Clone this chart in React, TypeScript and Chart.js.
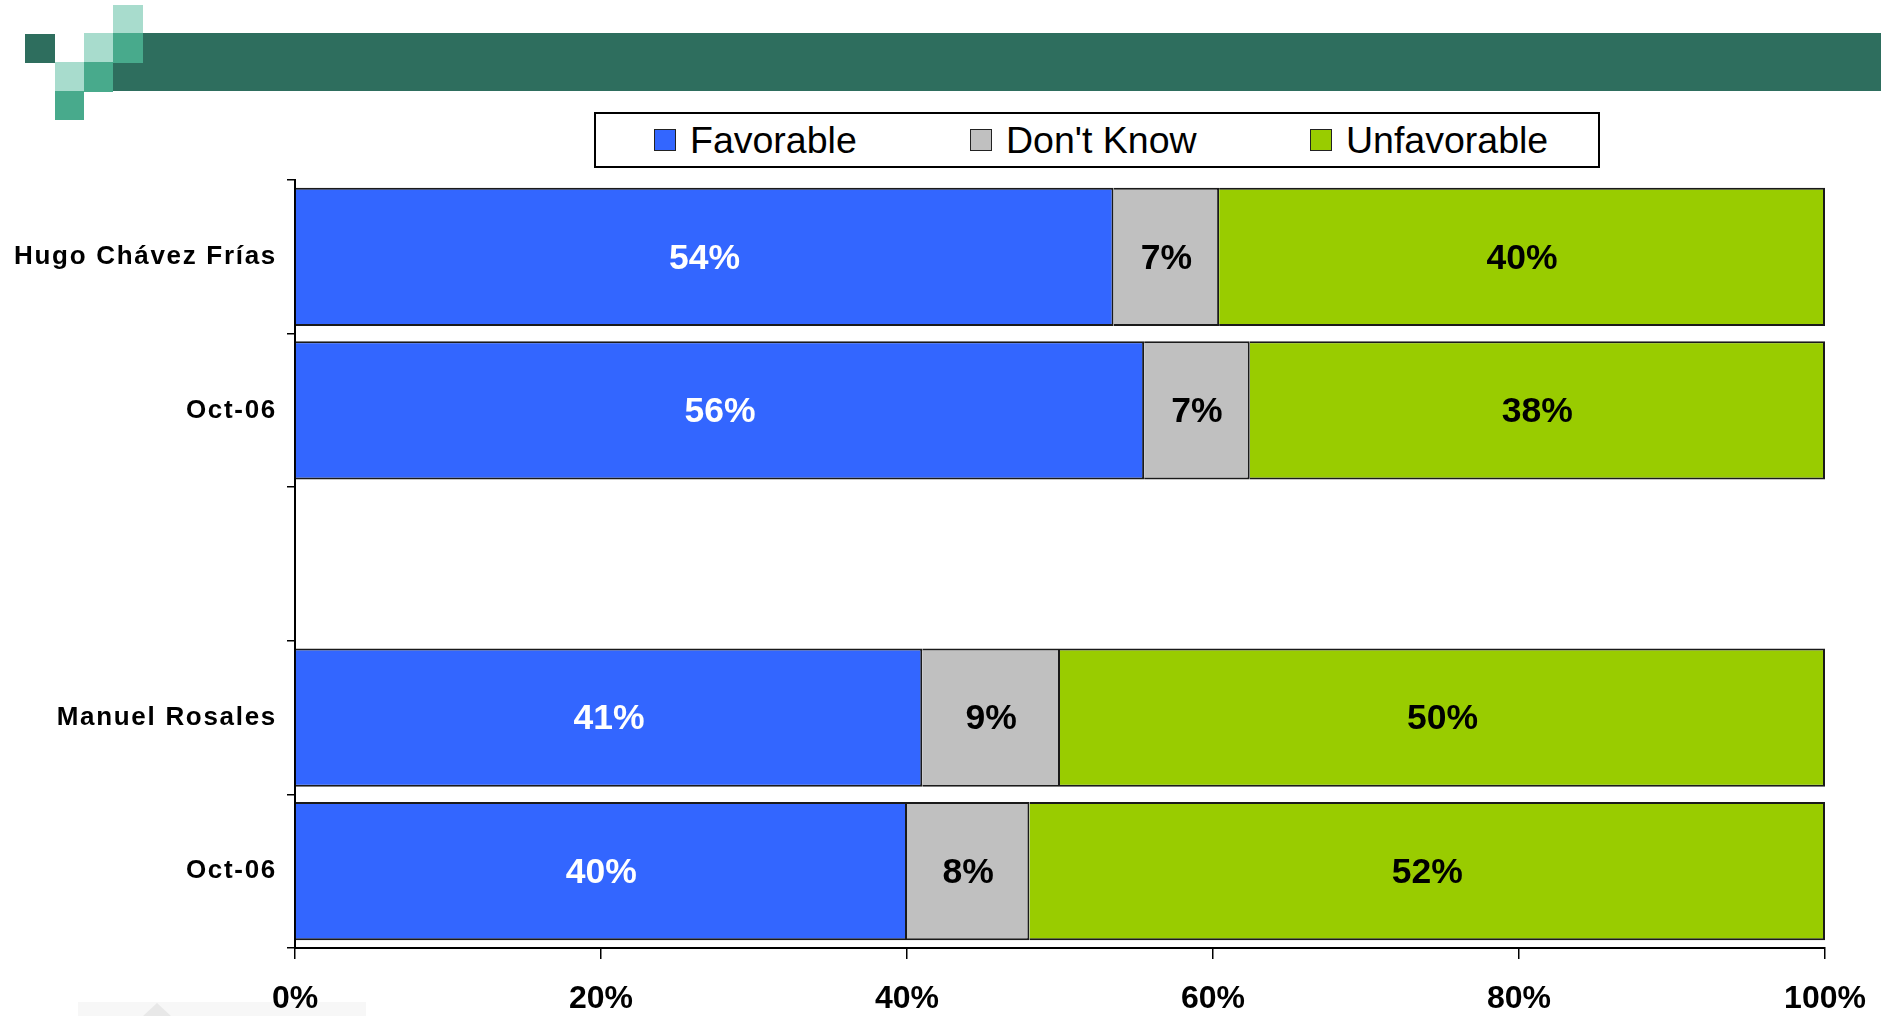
import React, { useEffect, useRef } from "react";
import { Chart, registerables } from "chart.js";

Chart.register(...registerables);

const categories = ["Hugo Chávez Frías", "Oct-06", "", "Manuel Rosales", "Oct-06"];
const favorable = [53.5, 55.5, null, 41, 40];
const dontKnow = [6.9, 6.9, null, 9, 8];
const unfavorable = [39.6, 37.6, null, 50, 52];
const seriesNames = ["Favorable", "Don't Know", "Unfavorable"];
const seriesColors = ["#3366FF", "#C0C0C0", "#99CC00"];
const labelColors = ["#FFFFFF", "#000000", "#000000"];
const xTickValues = [0, 20, 40, 60, 80, 100];

const FONT = "'Liberation Sans', Arial, Helvetica, sans-serif";

const spacingPlugin = {
  id: "ySpacing",
  beforeDraw(chart: any) {
    try {
      chart.ctx.letterSpacing = "1.7px";
    } catch (e) {}
  },
  beforeDatasetsDraw(chart: any) {
    try {
      chart.ctx.letterSpacing = "0px";
    } catch (e) {}
  },
};

const valueLabelPlugin = {
  id: "valueLabels",
  afterDatasetsDraw(chart: any) {
    const ctx = chart.ctx;
    ctx.save();
    ctx.font = `bold 35.5px ${FONT}`;
    ctx.textAlign = "center";
    ctx.textBaseline = "middle";
    chart.data.datasets.forEach((ds: any, i: number) => {
      const meta = chart.getDatasetMeta(i);
      meta.data.forEach((el: any, j: number) => {
        const v = ds.data[j];
        if (v === null || v === undefined) return;
        const p = el.getProps(["x", "y", "base"], true);
        ctx.fillStyle = labelColors[i];
        ctx.fillText(Math.round(v) + "%", (p.x + p.base) / 2, p.y + 2);
      });
    });
    ctx.restore();
  },
};

function ChartCanvas() {
  const ref = useRef<HTMLCanvasElement | null>(null);
  useEffect(() => {
    if (!ref.current) return;
    const seriesData = [favorable, dontKnow, unfavorable];
    const chart = new Chart(ref.current, {
      type: "bar",
      data: {
        labels: categories,
        datasets: seriesNames.map((name, i) => ({
          label: name,
          data: seriesData[i],
          backgroundColor: seriesColors[i],
          borderColor: "#1a1a1a",
          borderWidth: 2,
          barPercentage: 0.9,
          categoryPercentage: 1,
        })),
      },
      options: {
        indexAxis: "y",
        responsive: false,
        animation: false,
        devicePixelRatio: 1,
        layout: { padding: { top: 180, right: 56, left: 0, bottom: 0 } },
        plugins: {
          legend: { display: false },
          tooltip: { enabled: false },
        },
        scales: {
          x: {
            type: "linear",
            stacked: true,
            min: 0,
            max: 100,
            afterFit: (s: any) => {
              s.height = 68;
              s.paddingLeft = 0;
              s.paddingRight = 0;
            },
            afterBuildTicks: (s: any) => {
              s.ticks = xTickValues.map((v) => ({ value: v }));
            },
            ticks: {
              z: 1,
              stepSize: 20,
              padding: 21,
              color: "#000",
              font: { family: FONT, size: 32, weight: "bold" },
              callback: (v: any) => v + "%",
            },
            grid: {
              drawOnChartArea: false,
              drawTicks: true,
              tickLength: 11,
              color: "#000",
              lineWidth: 1.5,
            },
            border: { display: true, color: "#000", width: 2 },
          },
          y: {
            type: "category",
            stacked: true,
            afterFit: (s: any) => {
              s.width = 295;
            },
            ticks: {
              padding: 10,
              color: "#000",
              font: { family: FONT, size: 26, weight: "bold" },
            },
            grid: {
              offset: true,
              drawOnChartArea: false,
              drawTicks: true,
              tickLength: 8,
              color: "#000",
              lineWidth: 1.5,
            },
            border: { display: true, color: "#000", width: 2 },
          },
        },
      },
      plugins: [spacingPlugin, valueLabelPlugin],
    } as any);
    return () => chart.destroy();
  }, []);
  return (
    <canvas
      ref={ref}
      width={1881}
      height={1016}
      style={{ position: "absolute", left: 0, top: 0, width: 1881, height: 1016 }}
    />
  );
}

const DARK = "#2E6E5E";
const MID = "#48AA8C";
const LIGHT = "#A8DCCD";

const squares = [
  { x: 25, y: 34, w: 30, h: 29, c: DARK },
  { x: 113, y: 5, w: 30, h: 28, c: LIGHT },
  { x: 113, y: 33, w: 30, h: 30, c: MID },
  { x: 84, y: 33, w: 29, h: 29, c: LIGHT },
  { x: 84, y: 62, w: 29, h: 30, c: MID },
  { x: 55, y: 62, w: 29, h: 29, c: LIGHT },
  { x: 55, y: 91, w: 29, h: 29, c: MID },
];

const legendItems = [
  { name: seriesNames[0], color: seriesColors[0], left: 60 },
  { name: seriesNames[1], color: seriesColors[1], left: 376 },
  { name: seriesNames[2], color: seriesColors[2], left: 716 },
];

export default function App() {
  return (
    <div
      style={{
        position: "fixed",
        left: 0,
        top: 0,
        width: 1881,
        height: 1016,
        background: "#fff",
        overflow: "hidden",
        fontFamily: FONT,
      }}
    >
      {/* faint watermark at bottom left */}
      <div style={{ position: "absolute", left: 78, top: 1002, width: 288, height: 14, background: "#f7f7f7" }} />
      <div
        style={{
          position: "absolute",
          left: 143,
          top: 1003,
          width: 0,
          height: 0,
          borderLeft: "14px solid transparent",
          borderRight: "14px solid transparent",
          borderBottom: "13px solid #e8e8e8",
        }}
      />
      {/* banner */}
      <div style={{ position: "absolute", left: 113, top: 33, width: 1768, height: 58, background: DARK }} />
      {squares.map((s, i) => (
        <div
          key={i}
          style={{ position: "absolute", left: s.x, top: s.y, width: s.w, height: s.h, background: s.c }}
        />
      ))}
      <ChartCanvas />
      {/* legend */}
      <div
        style={{
          position: "absolute",
          left: 594,
          top: 112,
          width: 1006,
          height: 56,
          border: "2px solid #000",
          boxSizing: "border-box",
          background: "#fff",
        }}
      >
        {legendItems.map((it) => (
          <div
            key={it.name}
            style={{
              position: "absolute",
              left: it.left - 2,
              top: 0,
              height: "100%",
              display: "flex",
              alignItems: "center",
            }}
          >
            <div
              style={{
                width: 22,
                height: 22,
                boxSizing: "border-box",
                border: "1.5px solid #222",
                background: it.color,
                marginRight: 14,
              }}
            />
            <span style={{ fontSize: 37.5, color: "#000", lineHeight: "40px", whiteSpace: "nowrap" }}>{it.name}</span>
          </div>
        ))}
      </div>
    </div>
  );
}
